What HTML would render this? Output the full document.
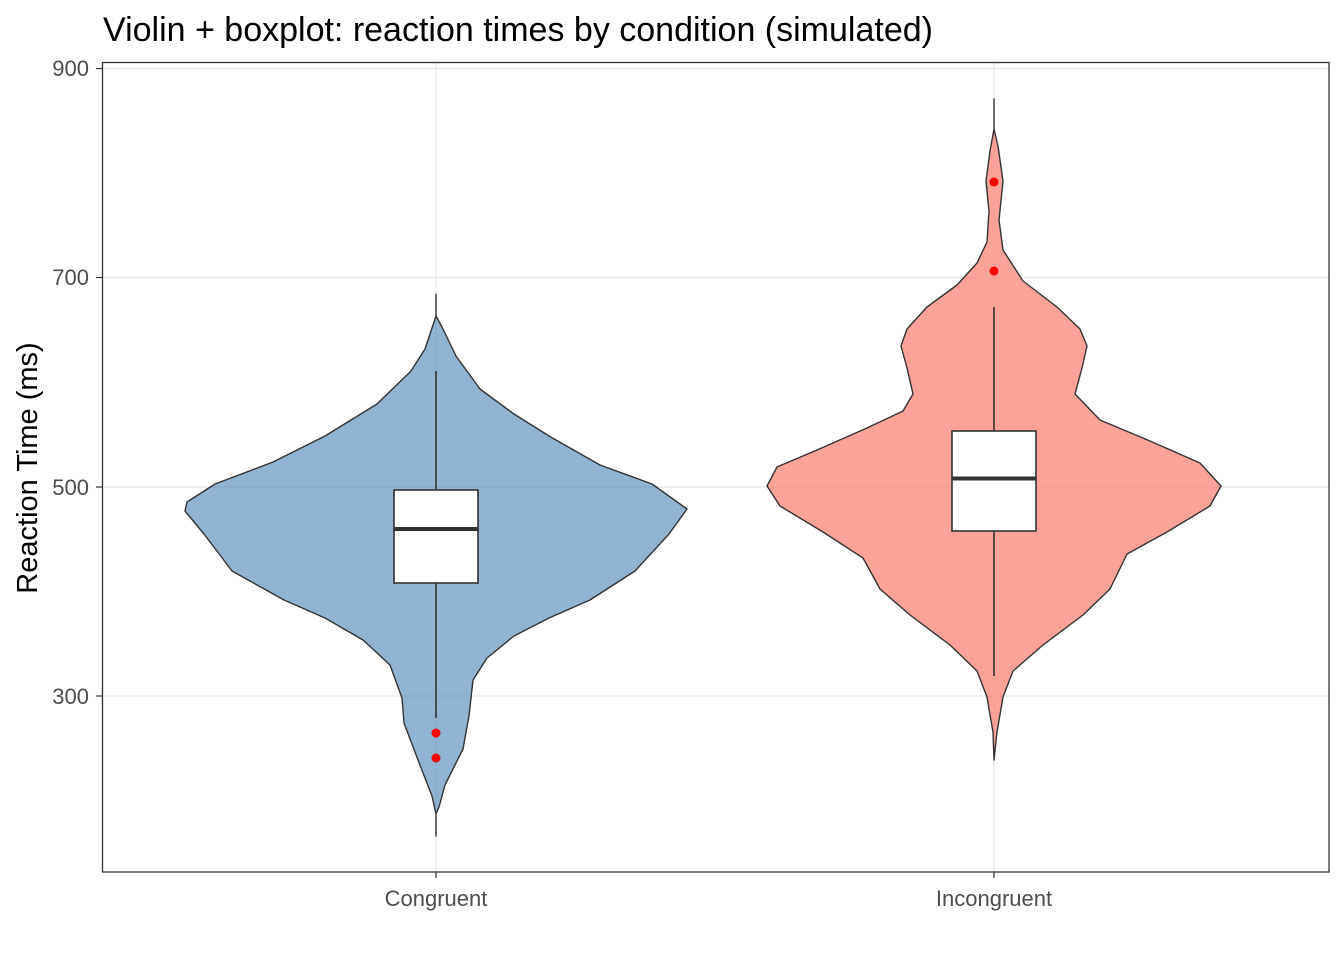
<!DOCTYPE html>
<html><head><meta charset="utf-8"><style>body{margin:0;background:#fff}</style></head><body>
<svg width="1344" height="960" xmlns="http://www.w3.org/2000/svg" font-family="Liberation Sans, sans-serif">
<rect width="1344" height="960" fill="#fff"/>
<text x="103" y="41" font-size="34" fill="#000">Violin + boxplot: reaction times by condition (simulated)</text>
<g stroke="#ebebeb" stroke-width="1.4">
<line x1="102" x2="1329" y1="68.5" y2="68.5"/><line x1="102" x2="1329" y1="277.5" y2="277.5"/>
<line x1="102" x2="1329" y1="487" y2="487"/><line x1="102" x2="1329" y1="696" y2="696"/>
<line x1="436" x2="436" y1="62" y2="872"/><line x1="994" x2="994" y1="62" y2="872"/>
</g>
<path d="M436,294.5 L436,316 L425,349 L411,371 L377,404 L325,436 L273,462 L215,484 L187,502 L185,511 L204,534 L232,571 L284,600 L325,618 L363,640 L390,665 L402,698 L404,723 L418,760 L432,796 L436,814 L436,836 L436,814 L439,807 L445,785 L463,749 L469,716 L473,680 L487,658 L514,636 L549,618 L590,600 L635,571 L669,534 L687,509 L652,484 L600,465 L549,436 L514,414 L480,389 L456,356 L442,327 L436,316 Z" fill="#4682b4" fill-opacity="0.6" stroke="#333" stroke-width="1.4" stroke-linejoin="round"/>
<path d="M994,99 L994,129 L990,151 L986,181 L989,211 L987,242 L977,263 L957,285 L927,307 L907,329 L901,346 L907,368 L913,394 L903,411 L867,428 L817,450 L777,467 L767,486 L780,506 L823,532 L863,558 L880,589 L910,615 L950,645 L977,671 L987,697 L993,732 L994,760 L997,732 L1003,697 L1013,671 L1043,645 L1083,615 L1110,589 L1127,554 L1167,532 L1210,506 L1221,486 L1200,463 L1150,441 L1100,420 L1075,394 L1082,368 L1087,346 L1080,329 L1057,307 L1023,281 L1003,250 L999,220 L1003,181 L998,146 L994,129 Z" fill="#fa8072" fill-opacity="0.72" stroke="#333" stroke-width="1.4" stroke-linejoin="round"/>
<g stroke="#333" stroke-width="1.6">
<line x1="436" x2="436" y1="371" y2="490"/><line x1="436" x2="436" y1="583" y2="718"/>
<rect x="394" y="490" width="84" height="93" fill="#fff"/>
<line x1="394" x2="478" y1="529" y2="529" stroke-width="4"/>
<line x1="994" x2="994" y1="307" y2="431"/><line x1="994" x2="994" y1="531" y2="676"/>
<rect x="952" y="431" width="84" height="100" fill="#fff"/>
<line x1="952" x2="1036" y1="478.5" y2="478.5" stroke-width="4"/>
</g>
<g fill="#f00"><circle cx="436" cy="733" r="4.5"/><circle cx="436" cy="758" r="4.5"/><circle cx="994" cy="182" r="4.5"/><circle cx="994" cy="271" r="4.5"/></g>
<rect x="102.5" y="62.5" width="1226.5" height="809.5" fill="none" stroke="#333" stroke-width="1.3"/>
<g stroke="#333" stroke-width="1.2">
<line x1="96" x2="102" y1="68.5" y2="68.5"/><line x1="96" x2="102" y1="277.5" y2="277.5"/><line x1="96" x2="102" y1="487" y2="487"/><line x1="96" x2="102" y1="696" y2="696"/>
<line x1="436" x2="436" y1="872" y2="878"/><line x1="994" x2="994" y1="872" y2="878"/>
</g>
<g font-size="22" fill="#4d4d4d" text-anchor="end">
<text x="89" y="76">900</text><text x="89" y="285">700</text><text x="89" y="495">500</text><text x="89" y="704">300</text>
</g>
<g font-size="22" fill="#4d4d4d" text-anchor="middle">
<text x="436" y="906">Congruent</text><text x="994" y="906">Incongruent</text>
</g>
<text transform="translate(37,468) rotate(-90)" font-size="29" text-anchor="middle" fill="#000">Reaction Time (ms)</text>
</svg>
</body></html>
